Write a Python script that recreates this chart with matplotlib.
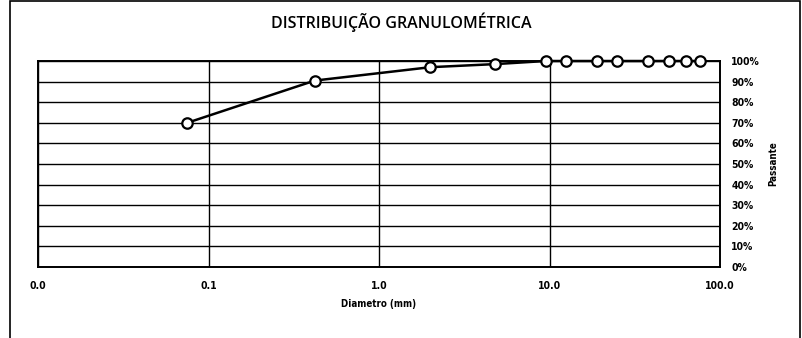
import matplotlib.pyplot as plt
from matplotlib.patches import Rectangle
from matplotlib.ticker import FixedLocator, NullLocator

# dados do ensaio
diametro = [0.075, 0.42, 2.0, 4.8, 9.5, 12.5, 19.0, 25.0, 38.0, 50.0, 63.0, 76.0]
passante = [70.0, 90.5, 97.0, 98.5, 100.0, 100.0, 100.0, 100.0, 100.0, 100.0, 100.0, 100.0]

x_ticks = [0.01, 0.1, 1, 10, 100]
x_labels = ['0.0', '0.1', '1.0', '10.0', '100.0']
y_ticks = list(range(0, 101, 10))
y_labels = [f'{v}%' for v in y_ticks]

plt.rcParams['font.family'] = ['DejaVu Sans']
plt.rcParams['font.stretch'] = 'condensed'

fig = plt.figure(figsize=(8.02, 3.38), dpi=100)
ax = fig.add_axes([0.0474, 0.210, 0.8504, 0.6095])

ax.plot(diametro, passante, color='black', linewidth=1.8, marker='o',
        markersize=7.5, markerfacecolor='white', markeredgecolor='black',
        markeredgewidth=1.6, zorder=3, clip_on=False)

ax.set_xscale('log')
ax.set_xlim(0.01, 100)
ax.set_ylim(0, 100)
ax.xaxis.set_major_locator(FixedLocator(x_ticks))
ax.xaxis.set_minor_locator(NullLocator())
ax.set_xticklabels(x_labels, fontsize=7.5, fontweight='bold')
ax.set_yticks(y_ticks)
ax.set_yticklabels(y_labels, fontsize=7.5, fontweight='bold')
ax.yaxis.tick_right()
ax.yaxis.set_label_position('right')
ax.tick_params(axis='x', length=0, pad=10)
ax.tick_params(axis='y', length=0, pad=8)

ax.grid(True, which='major', color='black', linewidth=1.0)
for s in ax.spines.values():
    s.set_linewidth(1.4)

ax.set_xlabel('Diametro (mm)', fontsize=7, fontweight='bold', labelpad=6)
ax.set_ylabel('Passante', fontsize=7, fontweight='bold', labelpad=6)

fig.text(0.5, 0.935, 'DISTRIBUIÇÃO GRANULOMÉTRICA', ha='center', va='center',
         fontsize=11.5, fontweight='semibold', family=['Open Sans', 'DejaVu Sans'],
         stretch='normal')

# moldura do gráfico
fig.patches.append(Rectangle((0.013, -0.05), 0.985, 1.047, transform=fig.transFigure,
                             fill=False, edgecolor='black', linewidth=1.2))

fig.savefig('out.png', dpi=100, facecolor='white')
